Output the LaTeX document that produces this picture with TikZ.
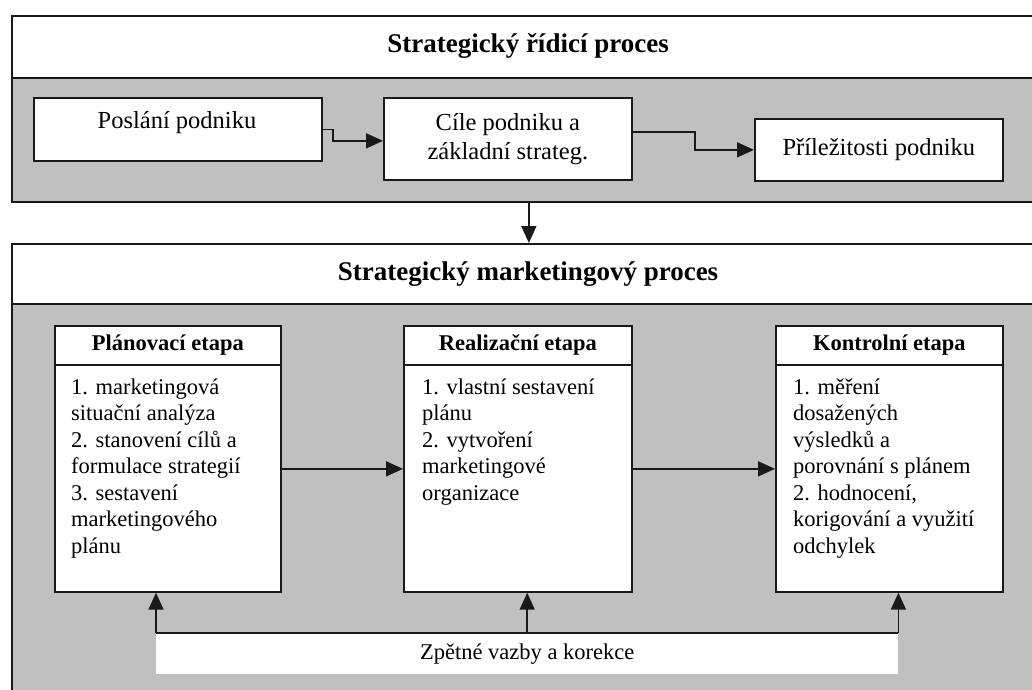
\documentclass[tikz,border=0pt]{standalone}
\usepackage{fontspec}
\setmainfont{Liberation Serif}
\usetikzlibrary{arrows.meta}
\definecolor{bggray}{RGB}{192,192,192}
\definecolor{lnc}{RGB}{25,25,25}
\begin{document}
\begin{tikzpicture}[x=1pt,y=-1pt,
  ln/.style={draw=lnc, line width=1.7pt},
  outerbox/.style={draw=lnc, line width=1.7pt, minimum width=1034pt, anchor=north west, inner sep=0pt},
  box/.style={draw=lnc, fill=white, line width=1.7pt, inner sep=0pt, anchor=north west},
  arr/.style={draw=lnc, line width=1.7pt, -{Triangle[length=17pt,width=15pt]}},
  titletext/.style={font=\fontsize{27}{32}\selectfont\bfseries},
  toptext/.style={font=\fontsize{24.5}{29}\selectfont, align=center},
  headtext/.style={font=\fontsize{22.5}{26.5}\selectfont\bfseries},
  bodytext/.style={font=\fontsize{22.5}{26.5}\selectfont, align=left, anchor=north west, inner sep=0pt},
]
\useasboundingbox (0,0) rectangle (1032,689);
\clip (0,0) rectangle (1032,689);
\fill[white] (0,0) rectangle (1032,689);

% ---------- top block ----------
\fill[bggray] (11,78) rectangle (1045,201);
\node[outerbox, minimum height=186pt] (top) at (11,15) {};
\draw[ln] (top.west |- 0,78) -- (top.east |- 0,78);
\node[titletext] (t1) at (528,46) {Strategický řídicí proces};

\node[box, minimum width=288pt, minimum height=63pt] (posl) at (33,97) {};
\node[toptext] (poslt) at (177,123) {Poslání podniku};
\node[box, minimum width=248pt, minimum height=82pt, toptext] (cile) at (383,97) {Cíle podniku a\\základní strateg.};
\node[box, minimum width=248pt, minimum height=62pt, toptext] (pril) at (754,118) {Příležitosti podniku};

\draw[arr] (posl.east) -- ++(10,0) |- ([yshift=-2pt]cile.west);
\draw[arr] ([yshift=7pt]cile.east) -- ++(62,0) |- (pril.west);

% ---------- bottom block ----------
\fill[bggray] (11,304) rectangle (1045,700);
\node[outerbox, minimum height=457pt] (bot) at (11,243) {};
\draw[ln] (bot.west |- 0,304) -- (bot.east |- 0,304);
\node[titletext] (t2) at (528,274) {Strategický marketingový proces};

\draw[arr] (top.south) -- (bot.north);

% stage boxes
\node[box, minimum width=226pt, minimum height=266pt] (pl) at (54,325) {};
\node[box, minimum width=228pt, minimum height=266pt] (re) at (403,325) {};
\node[box, minimum width=227pt, minimum height=266pt] (ko) at (775,325) {};
\foreach \b in {pl,re,ko}{\draw[ln] (\b.west |- 0,365) -- (\b.east |- 0,365);}

\node[headtext] (plh) at (pl.north |- 0,345) {Plánovací etapa};
\node[headtext] (reh) at (re.north |- 0,345) {Realizační etapa};
\node[headtext] (koh) at (ko.north |- 0,345) {Kontrolní etapa};

\node[bodytext] (plb) at (71,378.5) {1. marketingová\\situační analýza\\2. stanovení cílů a\\formulace strategií\\3. sestavení\\marketingového\\plánu};
\node[bodytext] (reb) at (422,378.5) {1. vlastní sestavení\\plánu\\2. vytvoření\\marketingové\\organizace};
\node[bodytext] (kob) at (793,378.5) {1. měření\\dosažených\\výsledků a\\porovnání s plánem\\2. hodnocení,\\korigování a využití\\odchylek};

\draw[arr] ([yshift=-10pt]pl.east) -- ([yshift=-10pt]re.west);
\draw[arr] ([yshift=-10pt]re.east) -- ([yshift=-10pt]ko.west);

% feedback
\node[fill=white, minimum width=742pt, minimum height=41pt, anchor=north west, inner sep=0pt,
      font=\fontsize{22.5}{26.5}\selectfont] (fb) at (156,633) {Zpětné vazby a korekce};
\draw[ln] (fb.north west) -- (fb.north east);
\draw[arr] (fb.north west) -- (fb.north west |- pl.south);
\draw[arr] (fb.north) -- (fb.north |- re.south);
\draw[arr] (fb.north east) -- (fb.north east |- ko.south);
\end{tikzpicture}
\end{document}
